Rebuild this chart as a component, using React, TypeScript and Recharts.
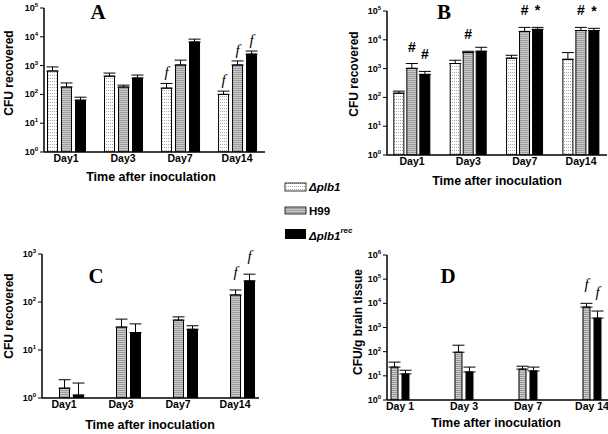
import { Bar, BarChart, ErrorBar, LabelList, XAxis, YAxis } from "recharts";

const days = ["Day1", "Day3", "Day7", "Day14"];
const daysD = ["Day 1", "Day 3", "Day 7", "Day 14"];

const ticksAB = [1, 10, 100, 1000, 10000, 100000];
const ticksC = [1, 10, 100, 1000];
const ticksD = [1, 10, 100, 1000, 10000, 100000, 1000000];

// panel A
const aPlb1 = [650, 430, 165, 100];
const aPlb1Err = [900, 550, 240, 130];
const aPlb1Marks = ["", "", "f", "f"];
const aH99 = [180, 180, 1050, 1050];
const aH99Err = [250, 210, 1550, 1450];
const aH99Marks = ["", "", "", "f"];
const aRec = [63, 370, 6600, 2500];
const aRecErr = [80, 470, 8300, 3200];
const aRecMarks = ["", "", "", "f"];

// panel B
const bPlb1 = [140, 1500, 2300, 2100];
const bPlb1Err = [165, 1950, 2900, 3600];
const bPlb1Marks = ["", "", "", ""];
const bH99 = [1020, 3600, 19500, 21000];
const bH99Err = [1500, 4000, 27000, 27000];
const bH99Marks = ["#", "#", "#", "#"];
const bRec = [630, 4000, 23000, 21000];
const bRecErr = [800, 5500, 27000, 25000];
const bRecMarks = ["#", "", "*", "*"];

// panel C (no plb1 bars)
const cPlb1 = [null, null, null, null];
const cH99 = [1.6, 30, 42, 140];
const cH99Err = [2.4, 44, 49, 178];
const cH99Marks = ["", "", "", "f"];
const cRec = [1.15, 23, 27, 275];
const cRecErr = [2.05, 35, 32, 380];
const cRecMarks = ["", "", "", "f"];

// panel D
const dH99 = [23, 95, 19, 7000];
const dH99Err = [37, 185, 25, 10000];
const dH99Marks = ["", "", "", "f"];
const dRec = [12, 14.5, 16, 2450];
const dRecErr = [17, 23, 23, 4800];
const dRecMarks = ["", "", "", "f"];

const SANS = "'Liberation Sans', Arial, Helvetica, sans-serif";
const SERIF = "'Liberation Serif', 'Times New Roman', serif";

type Series = {
  key: string;
  vals: (number | null)[];
  errs: (number | null)[];
  marks: string[];
  fill: string;
};

function LogTick(props: any) {
  const { x, y, payload } = props;
  const exp = Math.round(Math.log10(payload.value));
  return (
    <text x={x} y={y} dy={3} textAnchor="end" fontFamily={SANS} fontWeight="bold" fontSize={9} fill="#000">
      10
      <tspan dy={-4} fontSize={6}>
        {exp}
      </tspan>
    </text>
  );
}

const markContent = (s: Series, lift: number) => (props: any) => {
  const vb = props.viewBox ?? props;
  const i = Number(props.value);
  const mark = s.marks[i];
  if (!mark || !vb || vb.height == null) return null;
  const v = s.vals[i] as number;
  const e = s.errs[i] as number;
  const yErr = vb.y + vb.height - (vb.height * Math.log(e)) / Math.log(v);
  const isF = mark === "f";
  return (
    <text
      x={vb.x + vb.width / 2}
      y={yErr - lift}
      textAnchor="middle"
      fontFamily={isF ? SERIF : SANS}
      fontStyle={isF ? "italic" : "normal"}
      fontWeight={isF ? "normal" : "bold"}
      fontSize={isF ? 15 : 14}
      fill="#000"
    >
      {mark}
    </text>
  );
};

type PanelProps = {
  left: number;
  top: number;
  width: number;
  height: number;
  margin: { top: number; right: number; bottom: number; left: number };
  series: Series[];
  labels: string[];
  xDomain: [number, number];
  yTicks: number[];
  barSize: number;
  barGap: number;
  lift: number;
};

function Panel({ left, top, width, height, margin, series, labels, xDomain, yTicks, barSize, barGap, lift }: PanelProps) {
  const rows = labels.map((_, i) => {
    const r: any = { x: i };
    series.forEach((s) => {
      const v = s.vals[i];
      r[s.key] = v;
      r[s.key + "E"] = v == null ? null : [0, (s.errs[i] as number) - v];
    });
    return r;
  });

  return (
    <div style={{ position: "absolute", left, top }}>
      <BarChart width={width} height={height} data={rows} margin={margin} barSize={barSize} barGap={barGap}>
        <XAxis
          type="number"
          dataKey="x"
          domain={xDomain}
          allowDataOverflow
          ticks={[0, 1, 2, 3]}
          interval={0}
          tickFormatter={(v: number) => labels[v]}
          tickLine={false}
          tickSize={3}
          tickMargin={0}
          height={20}
          axisLine={{ stroke: "#000", strokeWidth: 1.5 }}
          tick={{ fill: "#000", fontFamily: SANS, fontWeight: "bold", fontSize: 10.5 }}
        />
        <YAxis
          type="number"
          scale="log"
          domain={[yTicks[0], yTicks[yTicks.length - 1]]}
          allowDataOverflow
          ticks={yTicks}
          interval={0}
          width={34}
          tickSize={4}
          tickMargin={2}
          tickLine={{ stroke: "#000" }}
          axisLine={{ stroke: "#000", strokeWidth: 1.5 }}
          tick={<LogTick />}
        />
        {series.map((s) =>
          s.vals.every((v) => v == null) ? (
            <Bar key={s.key} dataKey={s.key} isAnimationActive={false} shape={() => <g />} />
          ) : (
            <Bar key={s.key} dataKey={s.key} fill={s.fill} stroke="#000" strokeWidth={1} isAnimationActive={false}>
              <ErrorBar dataKey={s.key + "E"} width={6} stroke="#000" strokeWidth={1} direction="y" />
              <LabelList dataKey="x" content={markContent(s, lift)} />
            </Bar>
          )
        )}
      </BarChart>
    </div>
  );
}

const FILL_PLB1 = "url(#patPlb1)";
const FILL_H99 = "url(#patH99)";
const FILL_REC = "#000";

export default function App() {
  const seriesA: Series[] = [
    { key: "plb1", vals: aPlb1, errs: aPlb1Err, marks: aPlb1Marks, fill: FILL_PLB1 },
    { key: "h99", vals: aH99, errs: aH99Err, marks: aH99Marks, fill: FILL_H99 },
    { key: "rec", vals: aRec, errs: aRecErr, marks: aRecMarks, fill: FILL_REC },
  ];
  const seriesB: Series[] = [
    { key: "plb1", vals: bPlb1, errs: bPlb1Err, marks: bPlb1Marks, fill: FILL_PLB1 },
    { key: "h99", vals: bH99, errs: bH99Err, marks: bH99Marks, fill: FILL_H99 },
    { key: "rec", vals: bRec, errs: bRecErr, marks: bRecMarks, fill: FILL_REC },
  ];
  const seriesC: Series[] = [
    { key: "plb1", vals: cPlb1, errs: cPlb1, marks: ["", "", "", ""], fill: FILL_PLB1 },
    { key: "h99", vals: cH99, errs: cH99Err, marks: cH99Marks, fill: FILL_H99 },
    { key: "rec", vals: cRec, errs: cRecErr, marks: cRecMarks, fill: FILL_REC },
  ];
  const seriesD: Series[] = [
    { key: "h99", vals: dH99, errs: dH99Err, marks: dH99Marks, fill: FILL_H99 },
    { key: "rec", vals: dRec, errs: dRecErr, marks: dRecMarks, fill: FILL_REC },
  ];

  const title = { fontFamily: SERIF, fontWeight: "bold" as const, fontSize: 21, textAnchor: "middle" as const };
  const axisLab = { fontFamily: SANS, fontWeight: "bold" as const, fontSize: 12.5, textAnchor: "middle" as const };
  const legLab = { fontFamily: SANS, fontWeight: "bold" as const, fontSize: 11.5 };

  return (
    <div style={{ position: "absolute", left: 0, top: 0, width: 608, height: 434, background: "#fff", overflow: "hidden" }}>
      <svg width={0} height={0} style={{ position: "absolute" }}>
        <defs>
          <pattern id="patPlb1" width={2} height={3} patternUnits="userSpaceOnUse">
            <rect width={2} height={3} fill="#fff" />
            <rect width={1} height={1} fill="#a8a8a8" />
          </pattern>
          <pattern id="patH99" width={2} height={2} patternUnits="userSpaceOnUse">
            <rect width={2} height={2} fill="#cbcbcb" />
            <rect width={2} height={1} fill="#9c9c9c" />
          </pattern>
        </defs>
      </svg>

      <Panel
        left={0}
        top={0}
        width={300}
        height={200}
        margin={{ top: 8, right: 35, bottom: 28, left: 10 }}
        series={seriesA}
        labels={days}
        xDomain={[-0.386, 3.49]}
        yTicks={ticksAB}
        barSize={10}
        barGap={4}
        lift={6}
      />
      <Panel
        left={300}
        top={0}
        width={308}
        height={200}
        margin={{ top: 11, right: 1, bottom: 25, left: 53 }}
        series={seriesB}
        labels={days}
        xDomain={[-0.444, 3.46]}
        yTicks={ticksAB}
        barSize={10}
        barGap={3}
        lift={12}
      />
      <Panel
        left={0}
        top={230}
        width={300}
        height={204}
        margin={{ top: 24, right: 41, bottom: 16, left: 8 }}
        series={seriesC}
        labels={days}
        xDomain={[-0.386, 3.42]}
        yTicks={ticksC}
        barSize={10}
        barGap={4}
        lift={13}
      />
      <Panel
        left={300}
        top={230}
        width={308}
        height={204}
        margin={{ top: 25, right: 0, bottom: 14, left: 53 }}
        series={seriesD}
        labels={daysD}
        xDomain={[-0.203, 3.25]}
        yTicks={ticksD}
        barSize={7}
        barGap={4}
        lift={14}
      />

      <svg width={608} height={434} style={{ position: "absolute", left: 0, top: 0, pointerEvents: "none" }}>
        <text x={98} y={19} {...title}>A</text>
        <text x={444} y={19} {...title}>B</text>
        <text x={96} y={283} {...title}>C</text>
        <text x={448} y={283} {...title}>D</text>

        <text transform="translate(13,73) rotate(-90)" {...axisLab} fontSize={12}>CFU recovered</text>
        <text transform="translate(358,74) rotate(-90)" {...axisLab} fontSize={12}>CFU recovered</text>
        <text transform="translate(13,316) rotate(-90)" {...axisLab} fontSize={12}>CFU recovered</text>
        <text transform="translate(362,322) rotate(-90)" {...axisLab} fontSize={12}>CFU/g brain tissue</text>

        <text x={151} y={181} {...axisLab}>Time after inoculation</text>
        <text x={497} y={185} {...axisLab}>Time after inoculation</text>
        <text x={150} y={429} {...axisLab}>Time after inoculation</text>
        <text x={496} y={427} {...axisLab}>Time after inoculation</text>

        <rect x={285} y={183} width={21} height={8} fill={FILL_PLB1} stroke="#000" strokeWidth={0.8} />
        <rect x={285} y={207} width={21} height={7} fill={FILL_H99} stroke="#000" strokeWidth={0.8} />
        <rect x={285} y={229} width={21} height={10} fill="#000" />
        <text x={309} y={191} {...legLab} fontStyle="italic">Δplb1</text>
        <text x={309} y={215} {...legLab}>H99</text>
        <text x={309} y={240} {...legLab} fontStyle="italic">
          Δplb1
          <tspan dy={-7} fontSize={8}>rec</tspan>
        </text>
      </svg>
    </div>
  );
}
